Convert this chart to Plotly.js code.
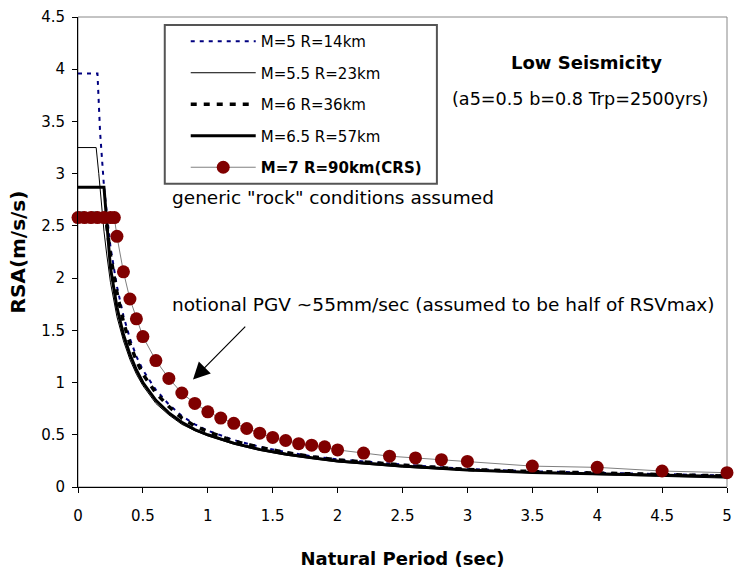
<!DOCTYPE html>
<html>
<head>
<meta charset="utf-8">
<script src="https://cdn.plot.ly/plotly-3.0.1.min.js"></script>
<style>html,body{margin:0;padding:0;background:#fff;}#chart{width:735px;height:577px;}</style>
</head>
<body>
<div id="chart"></div>
<script>
// ---- Data ----
const seriesNames = ["M=5 R=14km", "M=5.5 R=23km", "M=6 R=36km", "M=6.5 R=57km", "<b>M=7 R=90km(CRS)</b>"];

const periodM5  = [0, 0.15, 0.17, 0.2, 0.25, 0.3, 0.35, 0.4, 0.45, 0.5, 0.6, 0.7, 0.8, 0.9, 1.0, 1.2, 1.4, 1.6, 1.8, 2.0, 2.5, 3.0, 3.5, 4.0, 4.5, 5.0];
const rsaM5     = [3.96, 3.96, 3.40, 2.88, 2.30, 1.92, 1.64, 1.42, 1.25, 1.12, 0.93, 0.79, 0.68, 0.60, 0.54, 0.45, 0.385, 0.335, 0.295, 0.265, 0.215, 0.172, 0.150, 0.135, 0.122, 0.110];

const periodM55 = [0, 0.14, 0.16, 0.18, 0.2, 0.22, 0.25, 0.3, 0.35, 0.4, 0.45, 0.5, 0.6, 0.7, 0.8, 0.9, 1.0, 1.2, 1.4, 1.6, 1.8, 2.0, 2.5, 3.0, 3.5, 4.0, 4.5, 4.8, 5.0];
const rsaM55    = [3.25, 3.25, 3.00, 2.72, 2.45, 2.24, 1.96, 1.63, 1.40, 1.22, 1.08, 0.97, 0.80, 0.69, 0.60, 0.54, 0.49, 0.41, 0.35, 0.305, 0.27, 0.24, 0.19, 0.158, 0.135, 0.118, 0.100, 0.085, 0.085];

const periodM6  = [0, 0.21, 0.25, 0.3, 0.35, 0.4, 0.45, 0.5, 0.6, 0.7, 0.8, 0.9, 1.0, 1.2, 1.4, 1.6, 1.8, 2.0, 2.5, 3.0, 3.5, 4.0, 4.5, 5.0];
const rsaM6     = [2.62, 2.62, 2.22, 1.86, 1.58, 1.37, 1.21, 1.08, 0.90, 0.77, 0.66, 0.585, 0.53, 0.44, 0.38, 0.33, 0.29, 0.26, 0.21, 0.168, 0.148, 0.132, 0.120, 0.105];

const periodM65 = [0, 0.2, 0.25, 0.3, 0.35, 0.4, 0.45, 0.5, 0.6, 0.7, 0.8, 0.9, 1.0, 1.2, 1.4, 1.6, 1.8, 2.0, 2.5, 3.0, 3.5, 4.0, 4.5, 5.0];
const rsaM65    = [2.87, 2.87, 2.10, 1.72, 1.46, 1.27, 1.12, 1.00, 0.83, 0.71, 0.62, 0.55, 0.50, 0.42, 0.36, 0.315, 0.28, 0.25, 0.20, 0.163, 0.140, 0.125, 0.112, 0.100];

const periodM7  = [0, 0.05, 0.1, 0.15, 0.2, 0.25, 0.28, 0.3, 0.35, 0.4, 0.45, 0.5, 0.6, 0.7, 0.8, 0.9, 1.0, 1.1, 1.2, 1.3, 1.4, 1.5, 1.6, 1.7, 1.8, 1.9, 2.0, 2.2, 2.4, 2.6, 2.8, 3.0, 3.5, 4.0, 4.5, 5.0];
const rsaM7     = [2.58, 2.58, 2.58, 2.58, 2.58, 2.58, 2.58, 2.40, 2.06, 1.80, 1.61, 1.44, 1.21, 1.04, 0.90, 0.80, 0.72, 0.66, 0.61, 0.56, 0.515, 0.475, 0.445, 0.415, 0.40, 0.385, 0.355, 0.325, 0.295, 0.278, 0.262, 0.245, 0.200, 0.188, 0.153, 0.137];

const xTickVals = [0, 0.5, 1, 1.5, 2, 2.5, 3, 3.5, 4, 4.5, 5];
const yTickVals = [0, 0.5, 1, 1.5, 2, 2.5, 3, 3.5, 4, 4.5];

const TICKFONT = {family: "DejaVu Sans", size: 15, color: "#000"};
const ANNFONT = {family: "DejaVu Sans", size: 18.5, color: "#000"};

const traces = [
  {x: periodM5, y: rsaM5, name: seriesNames[0], mode: "lines", legendgroup: "a",
   line: {color: "#000080", width: 2, dash: "4px,5px"}},
  {x: periodM55, y: rsaM55, name: seriesNames[1], mode: "lines", legendgroup: "b",
   line: {color: "#000000", width: 1}},
  {x: periodM6, y: rsaM6, name: seriesNames[2], mode: "lines", legendgroup: "c",
   line: {color: "#000000", width: 3.5, dash: "6px,7px"}},
  {x: periodM65, y: rsaM65, name: seriesNames[3], mode: "lines", legendgroup: "d",
   line: {color: "#000000", width: 3}},
  {x: periodM7, y: rsaM7, name: seriesNames[4], mode: "lines+markers", legendgroup: "e",
   line: {color: "#808080", width: 1}, cliponaxis: false,
   marker: {color: "#800000", size: 13, line: {width: 0}}}
];

const layout = {
  width: 735, height: 577,
  margin: {l: 78, r: 8, t: 17, b: 90, pad: 0},
  paper_bgcolor: "#ffffff", plot_bgcolor: "#ffffff",
  showlegend: true,
  legend: {
    x: 0.166, y: 0.983, xanchor: "left", yanchor: "top",
    bgcolor: "rgba(0,0,0,0)", borderwidth: 0,
    font: {family: "DejaVu Sans", size: 15, color: "#000"},
    tracegroupgap: 9, itemwidth: 65, itemsizing: "trace", traceorder: "grouped"
  },
  xaxis: {
    range: [0, 5], tickvals: xTickVals, ticks: "outside", ticklen: 5, tickcolor: "#000",
    showline: true, linecolor: "#000", linewidth: 1, showgrid: false, zeroline: false,
    tickfont: TICKFONT, ticklabelstandoff: 10,
    title: {text: "<b>Natural Period (sec)</b>", font: {family: "DejaVu Sans", size: 18, color: "#000"}, standoff: 28}
  },
  yaxis: {
    range: [0, 4.5], tickvals: yTickVals, ticks: "outside", ticklen: 5, tickcolor: "#000",
    showline: true, linecolor: "#000", linewidth: 1, showgrid: false, zeroline: false,
    tickfont: TICKFONT, ticklabelstandoff: 4,
    title: {text: "<b>RSA(m/s/s)</b>", font: {family: "DejaVu Sans", size: 20, color: "#000"}, standoff: 10}
  },
  shapes: [
    {type: "rect", xref: "paper", yref: "paper", x0: 0, x1: 1, y0: 0, y1: 1,
     line: {color: "#888888", width: 1}, layer: "below"},
    // legend frame
    {type: "rect", xref: "paper", yref: "paper", x0: 0.1337, x1: 0.553, y0: 0.645, y1: 0.983,
     line: {color: "#555555", width: 2}, fillcolor: "rgba(0,0,0,0)", layer: "above"}
  ],
  annotations: [
    {xref: "paper", yref: "paper", x: 0.7834, y: 0.904, xanchor: "center", yanchor: "middle",
     text: "<b>Low Seismicity</b>", showarrow: false, font: {family: "DejaVu Sans", size: 18, color: "#000"}},
    {xref: "paper", yref: "paper", x: 0.7742, y: 0.826, xanchor: "center", yanchor: "middle",
     text: "(a5=0.5 b=0.8 Trp=2500yrs)", showarrow: false, font: {family: "DejaVu Sans", size: 17.6, color: "#000"}},
    {xref: "paper", yref: "paper", x: 0.1414, y: 0.617, xanchor: "left", yanchor: "middle",
     text: "generic \"rock\" conditions assumed", showarrow: false, font: ANNFONT},
    {xref: "paper", yref: "paper", x: 0.1414, y: 0.388, xanchor: "left", yanchor: "middle",
     text: "notional PGV ~55mm/sec (assumed to be half of RSVmax)", showarrow: false, font: ANNFONT},
    {xref: "x", yref: "y", x: 0.886, y: 1.03, axref: "x", ayref: "y", ax: 1.30, ay: 1.55,
     text: "", showarrow: true, arrowhead: 2, arrowsize: 2.8, arrowwidth: 1.2, arrowcolor: "#000"}
  ]
};

Plotly.newPlot("chart", traces, layout, {displayModeBar: false, staticPlot: true});
</script>
</body>
</html>
